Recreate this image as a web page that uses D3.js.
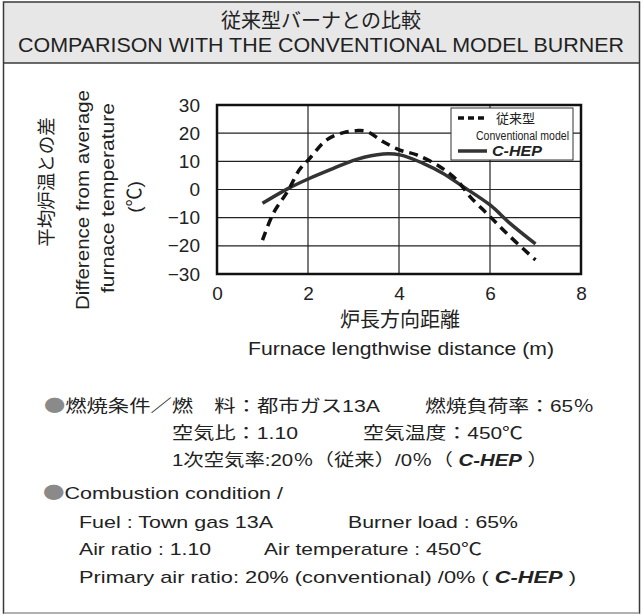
<!DOCTYPE html>
<html><head><meta charset="utf-8">
<script src="https://cdn.jsdelivr.net/npm/d3@7"></script>
<style>body{margin:0;background:#fff}svg{display:block}</style>
</head><body><svg id="c" width="642" height="615"></svg>
<script>
const xTicks = [0, 2, 4, 6, 8];
const yTicks = [30, 20, 10, 0, -10, -20, -30];
const convX = [1.0, 1.24, 1.57, 1.81, 2.04, 2.41, 2.78, 3.07, 3.29, 3.65, 4.02, 4.39, 4.9, 5.27, 5.56, 6.0, 6.44, 7.0];
const convY = [-18, -8.4, -0.2, 7, 11.1, 17.6, 20.2, 20.9, 20.6, 17, 14, 12.3, 8.1, 3.4, -2.5, -9.6, -16.7, -25];
const hepX = [1.0, 1.57, 2.04, 2.56, 3.07, 3.65, 4.02, 4.53, 4.97, 5.41, 6.0, 6.44, 7.0];
const hepY = [-4.9, 0.4, 4, 7.5, 10.7, 12.6, 12.3, 9.3, 5.7, 1, -5.5, -12, -19.3];
const seriesNames = ["従来型", "Conventional model", "C-HEP"];

const svg = d3.select("#c");
const LAT = "'Liberation Sans', Arial, 'Noto Sans CJK JP', sans-serif";
const JP = "'Noto Sans CJK JP', 'Liberation Sans', sans-serif";

// frame & header
svg.append("rect").attr("x",3.5).attr("y",2).attr("width",636).attr("height",61).attr("fill","#e7e7e7");
svg.append("rect").attr("x",3.5).attr("y",2).attr("width",636).attr("height",611).attr("fill","none").attr("stroke","#3a3a3a").attr("stroke-width",1.5);
svg.append("line").attr("x1",3.5).attr("x2",639.5).attr("y1",63).attr("y2",63).attr("stroke","#3a3a3a").attr("stroke-width",1.5);
svg.append("line").attr("x1",4).attr("x2",639).attr("y1",613).attr("y2",613).attr("stroke","#c8c8c8").attr("stroke-width",1.5);

svg.append("text").attr("x",321).attr("y",28).attr("text-anchor","middle").attr("font-family",JP).attr("font-size",20).attr("fill","#222").text("従来型バーナとの比較");
svg.append("text").attr("x",321).attr("y",52).attr("text-anchor","middle").attr("font-family",LAT).attr("font-size",21).attr("fill","#222")
  .attr("textLength",606).attr("lengthAdjust","spacingAndGlyphs").text("COMPARISON WITH THE CONVENTIONAL MODEL BURNER");

// chart
const L=217, R=581, T=105, B=274;
const x = d3.scaleLinear().domain([0,8]).range([L,R]);
const y = d3.scaleLinear().domain([-30,30]).range([B,T]);

const g = svg.append("g");
g.selectAll(".vg").data(xTicks.slice(1,-1)).enter().append("line")
  .attr("x1",d=>x(d)).attr("x2",d=>x(d)).attr("y1",T).attr("y2",B).attr("stroke","#222").attr("stroke-width",1.2);
g.selectAll(".hg").data(yTicks.slice(1,-1)).enter().append("line")
  .attr("x1",L).attr("x2",R).attr("y1",d=>y(d)).attr("y2",d=>y(d)).attr("stroke","#222").attr("stroke-width",1.2);

const xa = svg.append("g").attr("transform",`translate(0,${B})`).call(d3.axisBottom(x).tickValues(xTicks).tickSize(0).tickPadding(8).tickFormat(d3.format("d")));
xa.select(".domain").remove();
xa.selectAll("text").attr("font-family",LAT).attr("font-size",19).attr("fill","#222").attr("dy","0.95em");
const ya = svg.append("g").attr("transform",`translate(${L},0)`).call(d3.axisLeft(y).tickValues(yTicks).tickSize(0).tickPadding(17).tickFormat(d3.format("d")));
ya.select(".domain").remove();
ya.selectAll("text").attr("font-family",LAT).attr("font-size",19).attr("fill","#222");

const conv = convX.map((v,i)=>[v,convY[i]]);
const hep = hepX.map((v,i)=>[v,hepY[i]]);
const line = d3.line().x(d=>x(d[0])).y(d=>y(d[1])).curve(d3.curveCatmullRom.alpha(0.5));
g.append("path").datum(hep).attr("d",line).attr("fill","none").attr("stroke","#333").attr("stroke-width",3.5);
g.append("path").datum(conv).attr("d",line).attr("fill","none").attr("stroke","#111").attr("stroke-width",3.5).attr("stroke-dasharray","9,6");

g.append("rect").attr("x",L).attr("y",T).attr("width",R-L).attr("height",B-T).attr("fill","none").attr("stroke","#111").attr("stroke-width",2.5);

// legend
const lg = svg.append("g");
lg.append("rect").attr("x",451).attr("y",108).attr("width",122).attr("height",52).attr("fill","#fff").attr("stroke","#333").attr("stroke-width",1);
lg.append("line").attr("x1",458).attr("x2",485).attr("y1",118).attr("y2",118).attr("stroke","#111").attr("stroke-width",3.5).attr("stroke-dasharray","6,4");
lg.append("text").attr("x",496).attr("y",123).attr("font-family",JP).attr("font-size",13).attr("fill","#222").text(seriesNames[0]);
lg.append("text").attr("x",569).attr("y",140).attr("text-anchor","end").attr("font-family",LAT).attr("font-size",12.5).attr("fill","#222")
  .attr("textLength",93).attr("lengthAdjust","spacingAndGlyphs").text(seriesNames[1]);
lg.append("line").attr("x1",458).attr("x2",487).attr("y1",151).attr("y2",151).attr("stroke","#333").attr("stroke-width",3.5);
lg.append("text").attr("x",492).attr("y",156).attr("font-family",LAT).attr("font-size",14).attr("font-weight","bold").attr("font-style","italic").attr("fill","#222")
  .attr("textLength",50).attr("lengthAdjust","spacingAndGlyphs").text(seriesNames[2]);

// axis titles
svg.append("text").attr("x",400).attr("y",327).attr("text-anchor","middle").attr("font-family",JP).attr("font-size",20).attr("fill","#222").text("炉長方向距離");
svg.append("text").attr("x",401).attr("y",355).attr("text-anchor","middle").attr("font-family",LAT).attr("font-size",19).attr("fill","#222")
  .attr("textLength",306).attr("lengthAdjust","spacingAndGlyphs").text("Furnace lengthwise distance (m)");

const yt = [
  {t:"平均炉温との差", x:45, y:182, f:JP, s:18.5, len:null},
  {t:"Difference from average", x:82, y:200, f:LAT, s:19, len:220},
  {t:"furnace temperature", x:107, y:198, f:LAT, s:19, len:190},
  {t:"(℃)", x:134, y:197, f:LAT, s:19, len:null}
];
yt.forEach(o=>{
  const t = svg.append("text").attr("transform",`translate(${o.x},${o.y}) rotate(-90)`).attr("text-anchor","middle")
    .attr("dominant-baseline","central").attr("font-family",o.f).attr("font-size",o.s).attr("fill","#222").text(o.t);
  if(o.len) t.attr("textLength",o.len).attr("lengthAdjust","spacingAndGlyphs");
});

// notes
function note(xp, yp, parts, f, s){
  const t = svg.append("text").attr("x",xp).attr("y",yp).attr("font-family",f).attr("font-size",s).attr("fill","#222");
  parts.forEach(p=>{
    const ts = t.append("tspan").text(p.t);
    if(p.bi) ts.attr("font-weight","bold").attr("font-style","italic").attr("font-family",LAT);
    if(p.c) ts.attr("fill",p.c);
    if(p.f) ts.attr("font-family",p.f);
  });
  return t;
}
const GR="#8a8a8a";
note(44,412,[{t:"●",c:GR,f:JP},{t:"燃焼条件／燃　料：都市ガス13A"}],LAT,17).attr("textLength",336).attr("lengthAdjust","spacingAndGlyphs");
note(425,412,[{t:"燃焼負荷率：65％"}],LAT,17).attr("textLength",169).attr("lengthAdjust","spacingAndGlyphs");
note(172,439,[{t:"空気比：1.10"}],LAT,17).attr("textLength",126).attr("lengthAdjust","spacingAndGlyphs");
note(363,439,[{t:"空気温度：450℃"}],LAT,17).attr("textLength",160).attr("lengthAdjust","spacingAndGlyphs");
note(172,466,[{t:"1次空気率:20％（従来）/0％（ "},{t:"C-HEP",bi:true},{t:" ）"}],LAT,17).attr("textLength",376).attr("lengthAdjust","spacingAndGlyphs");

note(43,499,[{t:"●",c:GR,f:JP},{t:"Combustion condition /"}],LAT,17).attr("textLength",240).attr("lengthAdjust","spacingAndGlyphs");
note(79,528,[{t:"Fuel : Town gas 13A"}],LAT,17).attr("textLength",194).attr("lengthAdjust","spacingAndGlyphs");
note(348,528,[{t:"Burner load : 65%"}],LAT,17).attr("textLength",170).attr("lengthAdjust","spacingAndGlyphs");
note(79,555,[{t:"Air ratio : 1.10"}],LAT,17).attr("textLength",132).attr("lengthAdjust","spacingAndGlyphs");
note(264,555,[{t:"Air temperature : 450℃"}],LAT,17).attr("textLength",218).attr("lengthAdjust","spacingAndGlyphs");
note(79,583,[{t:"Primary air ratio: 20% (conventional) /0% ( "},{t:"C-HEP",bi:true},{t:" )"}],LAT,17).attr("textLength",497).attr("lengthAdjust","spacingAndGlyphs");
</script></body></html>
